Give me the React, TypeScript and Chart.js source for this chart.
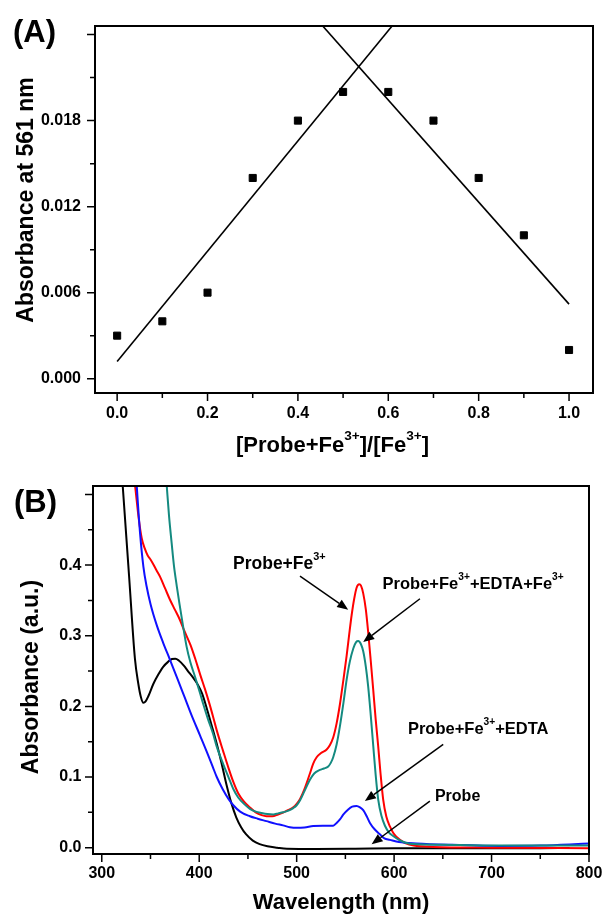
import React, { useEffect, useRef } from 'react';
import { Chart, registerables } from 'chart.js';

Chart.register(...registerables);

const FONT = '"Liberation Sans", Arial, Helvetica, sans-serif';

// ---------- Panel A : Job's plot ----------
const ratio = [0, 0.1, 0.2, 0.3, 0.4, 0.5, 0.6, 0.7, 0.8, 0.9, 1.0];
const abs561 = [0.003, 0.004, 0.006, 0.014, 0.018, 0.020, 0.020, 0.018, 0.014, 0.010, 0.002];
const riseFitX = [0, 0.65];
const riseFitY = [0.0012, 0.0262];
const fallFitX = [0.41, 1.0];
const fallFitY = [0.0262, 0.0052];
const ratioTicks = [0, 0.2, 0.4, 0.6, 0.8, 1.0];
const ratioTickLabels = ['0.0', '0.2', '0.4', '0.6', '0.8', '1.0'];
const abs561Ticks = [0, 0.006, 0.012, 0.018];
const abs561TickLabels = ['0.000', '0.006', '0.012', '0.018'];

// ---------- Panel B : UV-vis spectra ----------
const probeNm = [316, 321.5, 328, 334, 337.5, 340, 342.7, 345, 348, 353, 358, 363, 368, 372, 375.5, 379, 384, 389, 393, 398, 403, 408, 413, 418, 423, 428, 433, 438, 443, 448, 455, 462, 470, 480, 490, 520, 560, 600, 650, 700, 750, 780];
const probeAbs = [0.62, 0.512, 0.385, 0.268, 0.232, 0.214, 0.205, 0.207, 0.215, 0.232, 0.245, 0.256, 0.263, 0.267, 0.2675, 0.265, 0.258, 0.249, 0.242, 0.232, 0.218, 0.196, 0.172, 0.147, 0.119, 0.089, 0.063, 0.043, 0.029, 0.019, 0.010, 0.005, 0.002, 0.0, -0.0015, -0.0018, -0.0015, -0.001, -0.001, -0.001, -0.0008, -0.0005];

const feNm = [330, 334.2, 338, 341, 344, 347, 350, 353, 356, 360, 365, 370, 375, 380, 385, 391, 396, 401, 406, 410, 414.5, 418, 424.7, 430, 435, 440, 446, 452, 458, 464, 469, 475, 481, 486, 491, 496.5, 500, 503.5, 508, 513.6, 517, 520.5, 525, 530.8, 534, 537.5, 541, 544.4, 548, 551.3, 554, 556.4, 559, 561.5, 564.2, 566, 568.3, 571, 573.4, 576, 578.6, 581, 583.7, 586, 588.8, 592, 595.7, 599, 602.6, 606, 612, 620, 640, 700, 800];
const feAbs = [0.56, 0.512, 0.465, 0.438, 0.424, 0.414, 0.408, 0.401, 0.393, 0.383, 0.367, 0.351, 0.337, 0.323, 0.306, 0.287, 0.267, 0.245, 0.224, 0.206, 0.184, 0.166, 0.136, 0.113, 0.093, 0.077, 0.065, 0.057, 0.050, 0.046, 0.0445, 0.0445, 0.047, 0.0495, 0.053, 0.057, 0.062, 0.069, 0.083, 0.105, 0.119, 0.128, 0.134, 0.139, 0.145, 0.156, 0.176, 0.203, 0.238, 0.272, 0.303, 0.329, 0.352, 0.368, 0.373, 0.371, 0.360, 0.337, 0.305, 0.265, 0.223, 0.183, 0.143, 0.106, 0.068, 0.044, 0.030, 0.021, 0.015, 0.011, 0.006, 0.003, 0.001, 0.0, -0.001];

const edtaFeNm = [362, 366.7, 369, 371.8, 374, 377, 380, 383.5, 387, 391, 395.7, 400.8, 404.2, 409, 414.5, 418, 424.7, 430, 435, 440, 446, 452, 458, 464, 470, 476, 481, 486, 491, 496.5, 500, 503.5, 508, 513.6, 518, 523.8, 528, 532.4, 535, 537.5, 541, 544.4, 548, 551.3, 554.5, 558.1, 561, 563.2, 566, 568.3, 571, 573.4, 576, 578.6, 581, 583.7, 587, 590.6, 595, 599.1, 605, 612, 620, 650, 700, 750, 800];
const edtaFeAbs = [0.60, 0.512, 0.47, 0.43, 0.40, 0.37, 0.343, 0.313, 0.285, 0.262, 0.242, 0.219, 0.203, 0.182, 0.160, 0.143, 0.118, 0.100, 0.083, 0.071, 0.062, 0.055, 0.051, 0.049, 0.0475, 0.047, 0.0485, 0.05, 0.052, 0.056, 0.06, 0.067, 0.08, 0.096, 0.105, 0.110, 0.112, 0.115, 0.12, 0.128, 0.146, 0.172, 0.205, 0.238, 0.263, 0.282, 0.291, 0.2925, 0.288, 0.278, 0.256, 0.228, 0.188, 0.144, 0.104, 0.068, 0.045, 0.031, 0.021, 0.0165, 0.011, 0.007, 0.005, 0.004, 0.003, 0.003, 0.003];

const edtaNm = [332, 335.9, 339.3, 342.7, 346, 350, 356.4, 363, 370, 378, 385, 392, 400.8, 408, 414, 418, 424, 430, 435, 442, 452, 460, 469, 478, 486, 493, 500, 508, 517, 527, 537.5, 541, 544.4, 548, 552.9, 557, 561.5, 565, 568.3, 572, 575.2, 580, 585.4, 590, 595.7, 605, 623, 660, 708, 750, 780, 800];
const edtaAbs = [0.60, 0.512, 0.445, 0.398, 0.370, 0.345, 0.315, 0.290, 0.266, 0.238, 0.213, 0.188, 0.159, 0.135, 0.114, 0.100, 0.083, 0.069, 0.060, 0.051, 0.0445, 0.041, 0.0375, 0.034, 0.0315, 0.029, 0.028, 0.0285, 0.0305, 0.031, 0.031, 0.035, 0.040, 0.047, 0.054, 0.058, 0.059, 0.057, 0.053, 0.044, 0.035, 0.026, 0.019, 0.013, 0.011, 0.008, 0.006, 0.004, 0.0025, 0.003, 0.0045, 0.006];

const wlTicks = [300, 400, 500, 600, 700, 800];
const wlTickLabels = ['300', '400', '500', '600', '700', '800'];
const absTicks = [0, 0.1, 0.2, 0.3, 0.4];
const absTickLabels = ['0.0', '0.1', '0.2', '0.3', '0.4'];

type Seg = { t: string; sup?: boolean };

const titleA_x: Seg[] = [{ t: '[Probe+Fe' }, { t: '3+', sup: true }, { t: ']/[Fe' }, { t: '3+', sup: true }, { t: ']' }];
const titleA_y: Seg[] = [{ t: 'Absorbance at 561 nm' }];
const titleB_x: Seg[] = [{ t: 'Wavelength (nm)' }];
const titleB_y: Seg[] = [{ t: 'Absorbance (a.u.)' }];

const noteTexts: Seg[][] = [
  [{ t: 'Probe+Fe' }, { t: '3+', sup: true }],
  [{ t: 'Probe+Fe' }, { t: '3+', sup: true }, { t: '+EDTA+Fe' }, { t: '3+', sup: true }],
  [{ t: 'Probe+Fe' }, { t: '3+', sup: true }, { t: '+EDTA' }],
  [{ t: 'Probe' }],
];
const noteAt = [[434.7, 0.394], [588.2, 0.3656], [614.2, 0.1604], [641.9, 0.066]];
const arrowFrom = [[503.4, 0.3844], [626.5, 0.3524], [650.4, 0.1462], [636.7, 0.066]];
const arrowTo = [[552.9, 0.3369], [568.3, 0.291], [570.0, 0.066], [576.9, 0.0047]];

const pts = (xs: number[], ys: number[]) => xs.map((x, i) => ({ x, y: ys[i] }));

const labelAt = (v: number, vals: number[], labels: string[]) => {
  const i = vals.findIndex((t) => Math.abs(t - v) < 1e-7);
  return i >= 0 ? labels[i] : '';
};

const isMajor = (v: number, step: number) => Math.abs(v / step - Math.round(v / step)) < 1e-6;

function drawRich(ctx: CanvasRenderingContext2D, segs: Seg[], x: number, y: number, size: number, align: 'left' | 'center') {
  const baseFont = `bold ${size}px ${FONT}`;
  const supFont = `bold ${Math.round(size * 0.62 * 10) / 10}px ${FONT}`;
  let total = 0;
  const widths = segs.map((s) => {
    ctx.font = s.sup ? supFont : baseFont;
    const w = ctx.measureText(s.t).width;
    total += w;
    return w;
  });
  let cx = align === 'center' ? x - total / 2 : x;
  ctx.textAlign = 'left';
  ctx.textBaseline = 'alphabetic';
  segs.forEach((s, i) => {
    ctx.font = s.sup ? supFont : baseFont;
    ctx.fillText(s.t, cx, s.sup ? y - size * 0.55 : y);
    cx += widths[i];
  });
}

const decorPlugin = {
  id: 'decor',
  afterDraw(chart: any, _args: any, o: any) {
    const { ctx, chartArea: a } = chart;
    const xs = chart.scales.x;
    const ys = chart.scales.y;
    ctx.save();
    ctx.strokeStyle = '#000';
    ctx.fillStyle = '#000';
    ctx.lineWidth = 1.5;
    ctx.beginPath();
    xs.ticks.forEach((t: any) => {
      const p = xs.getPixelForValue(t.value);
      const L = isMajor(t.value, o.xMajor) ? 8 : 5;
      ctx.moveTo(p, a.bottom);
      ctx.lineTo(p, a.bottom + L);
    });
    ys.ticks.forEach((t: any) => {
      const p = ys.getPixelForValue(t.value);
      const L = isMajor(t.value, o.yMajor) ? 8 : 5;
      ctx.moveTo(a.left, p);
      ctx.lineTo(a.left - L, p);
    });
    ctx.stroke();
    ctx.lineWidth = 2;
    ctx.strokeRect(a.left, a.top, a.right - a.left, a.bottom - a.top);

    ctx.font = `bold 31px ${FONT}`;
    ctx.textAlign = 'left';
    ctx.textBaseline = 'alphabetic';
    ctx.fillText(o.panel, o.panelX, o.panelY);

    drawRich(ctx, o.xTitle, o.xTitleX, o.xTitleY, o.xTitleSize, 'center');
    ctx.save();
    ctx.translate(o.yTitleX, o.yTitleY);
    ctx.rotate(-Math.PI / 2);
    drawRich(ctx, o.yTitle, 0, 0, o.yTitleSize, 'center');
    ctx.restore();

    (o.notes || []).forEach((n: any) => {
      const fx = xs.getPixelForValue(n.from[0]);
      const fy = ys.getPixelForValue(n.from[1]);
      const tx = xs.getPixelForValue(n.to[0]);
      const ty = ys.getPixelForValue(n.to[1]);
      const ang = Math.atan2(ty - fy, tx - fx);
      const head = 11;
      const hw = 4.5;
      const bx = tx - head * Math.cos(ang);
      const by = ty - head * Math.sin(ang);
      ctx.lineWidth = 1.5;
      ctx.beginPath();
      ctx.moveTo(fx, fy);
      ctx.lineTo(bx, by);
      ctx.stroke();
      ctx.beginPath();
      ctx.moveTo(tx, ty);
      ctx.lineTo(bx + hw * Math.sin(ang), by - hw * Math.cos(ang));
      ctx.lineTo(bx - hw * Math.sin(ang), by + hw * Math.cos(ang));
      ctx.closePath();
      ctx.fill();
      drawRich(ctx, n.text, xs.getPixelForValue(n.at[0]), ys.getPixelForValue(n.at[1]), n.size, 'left');
    });
    ctx.restore();
  },
};

const noteSizes = [17.5, 16.5, 16.5, 16];

const tickFont = { family: FONT, size: 16, weight: 'bold' as const };

const fixX = (h: number) => (s: any) => {
  s.height = h;
  s.paddingLeft = 0;
  s.paddingRight = 0;
};
const fixY = (w: number) => (s: any) => {
  s.width = w;
  s.paddingTop = 0;
  s.paddingBottom = 0;
};

export default function App() {
  const refA = useRef<HTMLCanvasElement>(null);
  const refB = useRef<HTMLCanvasElement>(null);

  useEffect(() => {
    Chart.defaults.font.family = FONT;
    const chartA = new Chart(refA.current as HTMLCanvasElement, {
      type: 'scatter',
      data: {
        datasets: [
          {
            data: pts(ratio, abs561),
            pointStyle: 'rect',
            pointRadius: 5,
            pointBackgroundColor: '#000',
            pointBorderColor: '#000',
            pointBorderWidth: 1,
            showLine: false,
          },
          {
            data: pts(riseFitX, riseFitY),
            showLine: true,
            pointRadius: 0,
            borderColor: '#000',
            borderWidth: 1.6,
          },
          {
            data: pts(fallFitX, fallFitY),
            showLine: true,
            pointRadius: 0,
            borderColor: '#000',
            borderWidth: 1.6,
          },
        ],
      },
      options: {
        animation: false,
        responsive: false,
        events: [],
        layout: { padding: { left: 0, top: 26, right: 10, bottom: 0 } },
        plugins: {
          legend: { display: false },
          tooltip: { enabled: false },
          decor: {
            panel: '(A)', panelX: 13, panelY: 42,
            xTitle: titleA_x, xTitleX: 332.5, xTitleY: 452, xTitleSize: 22,
            yTitle: titleA_y, yTitleX: 33.3, yTitleY: 200, yTitleSize: 23,
            xMajor: 0.2, yMajor: 0.006,
          },
        } as any,
        scales: {
          x: {
            type: 'linear',
            min: -0.049,
            max: 1.053,
            afterFit: fixX(67),
            grid: { display: false, drawTicks: false },
            border: { display: false },
            ticks: {
              stepSize: 0.1, includeBounds: false, autoSkip: false, maxRotation: 0, padding: 11,
              color: '#000', font: tickFont,
              callback: (v: any) => labelAt(Number(v), ratioTicks, ratioTickLabels),
            },
          },
          y: {
            type: 'linear',
            min: -0.001,
            max: 0.0246,
            afterFit: fixY(95),
            grid: { display: false, drawTicks: false },
            border: { display: false },
            ticks: {
              stepSize: 0.003, includeBounds: false, autoSkip: false, padding: 14,
              color: '#000', font: tickFont,
              callback: (v: any) => labelAt(Number(v), abs561Ticks, abs561TickLabels),
            },
          },
        },
      },
      plugins: [decorPlugin],
    });

    const line = (xs: number[], ys: number[], color: string) => ({
      data: pts(xs, ys),
      showLine: true,
      pointRadius: 0,
      borderColor: color,
      borderWidth: 2,
      cubicInterpolationMode: 'monotone' as const,
    });

    const chartB = new Chart(refB.current as HTMLCanvasElement, {
      type: 'scatter',
      data: {
        datasets: [
          line(edtaFeNm, edtaFeAbs, '#148a80'),
          line(edtaNm, edtaAbs, '#1010ff'),
          line(feNm, feAbs, '#ff0000'),
          line(probeNm, probeAbs, '#000000'),
        ],
      },
      options: {
        animation: false,
        responsive: false,
        events: [],
        layout: { padding: { left: 0, top: 26, right: 14, bottom: 0 } },
        plugins: {
          legend: { display: false },
          tooltip: { enabled: false },
          decor: {
            panel: '(B)', panelX: 14, panelY: 51.5,
            xTitle: titleB_x, xTitleX: 341, xTitleY: 449.3, xTitleSize: 22,
            yTitle: titleB_y, yTitleX: 38.3, yTitleY: 217, yTitleSize: 23,
            xMajor: 100, yMajor: 0.1,
            notes: noteTexts.map((text, i) => ({ text, at: noteAt[i], from: arrowFrom[i], to: arrowTo[i], size: noteSizes[i] })),
          },
        } as any,
        scales: {
          x: {
            type: 'linear',
            min: 291,
            max: 800,
            afterFit: fixX(60),
            grid: { display: false, drawTicks: false },
            border: { display: false },
            ticks: {
              stepSize: 50, includeBounds: false, autoSkip: false, maxRotation: 0, padding: 10,
              color: '#000', font: tickFont,
              callback: (v: any) => labelAt(Number(v), wlTicks, wlTickLabels),
            },
          },
          y: {
            type: 'linear',
            min: -0.009,
            max: 0.512,
            afterFit: fixY(93),
            grid: { display: false, drawTicks: false },
            border: { display: false },
            ticks: {
              stepSize: 0.05, includeBounds: false, autoSkip: false, padding: 11.5,
              color: '#000', font: tickFont,
              callback: (v: any) => labelAt(Number(v), absTicks, absTickLabels),
            },
          },
        },
      },
      plugins: [decorPlugin],
    });

    return () => {
      chartA.destroy();
      chartB.destroy();
    };
  }, []);

  return (
    <div style={{ position: 'absolute', left: 0, top: 0, width: 603, height: 914, background: '#fff' }}>
      <canvas ref={refA} width={603} height={460} style={{ position: 'absolute', left: 0, top: 0, display: 'block' }} />
      <canvas ref={refB} width={603} height={454} style={{ position: 'absolute', left: 0, top: 460, display: 'block' }} />
    </div>
  );
}
